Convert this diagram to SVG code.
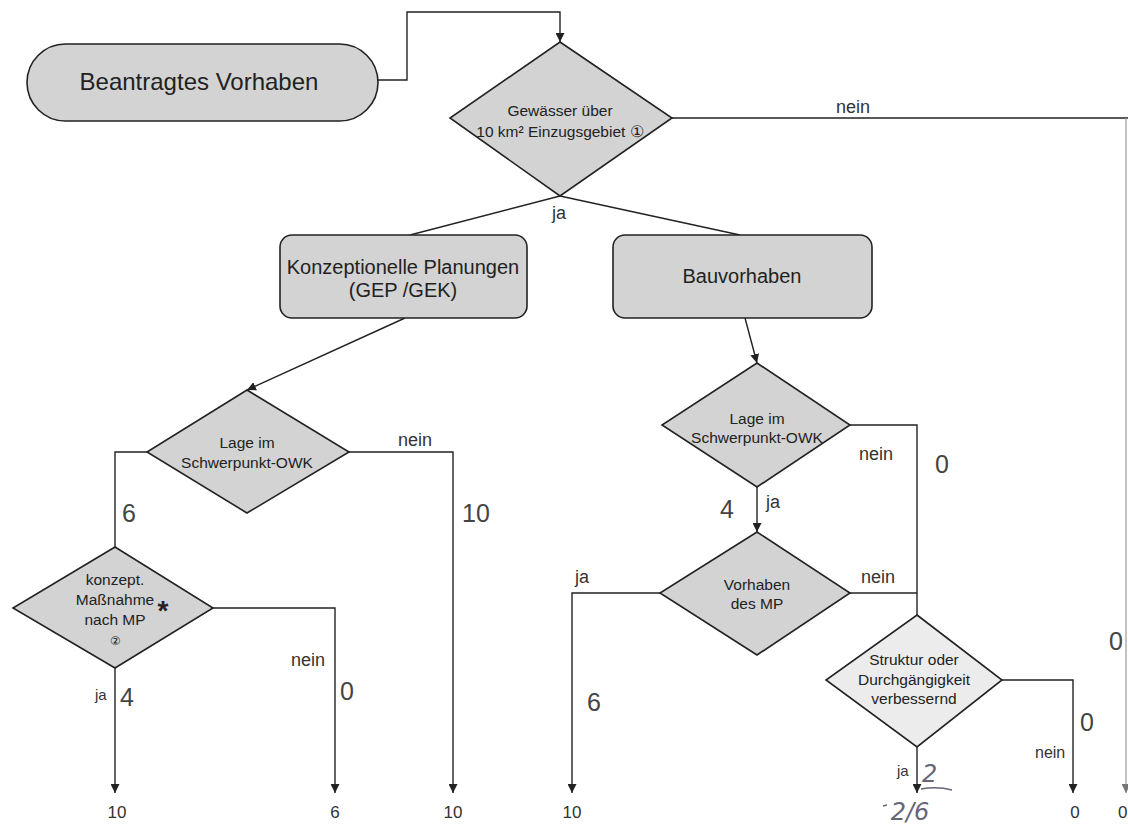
<svg xmlns="http://www.w3.org/2000/svg" width="1128" height="826" viewBox="0 0 1128 826">
<style>
.shape{fill:#d3d3d3;stroke:#222;stroke-width:1.6}
.light{fill:#ececec;stroke:#222;stroke-width:1.6}
.line{fill:none;stroke:#222;stroke-width:1.4}
.faint{fill:none;stroke:#999;stroke-width:1.2}
text{font-family:"Liberation Sans",Arial,sans-serif;fill:#222}
.dt{font-size:15.5px;text-anchor:middle}
.bt{font-size:20px;text-anchor:middle}
.lab{font-size:18px;fill:#333}
.num{font-size:25px;fill:#444}
.bn{font-size:17px;fill:#333;text-anchor:middle}
.hand{font-family:"DejaVu Sans",sans-serif;font-style:italic;fill:#667;font-size:24px}
</style>
<defs>
<marker id="arr" viewBox="0 0 10 10" refX="10" refY="5" markerWidth="9" markerHeight="9" markerUnits="userSpaceOnUse" orient="auto">
<path d="M0,0 L10,5 L0,10 z" fill="#222"/>
</marker>
<marker id="arrf" viewBox="0 0 10 10" refX="10" refY="5" markerWidth="9" markerHeight="9" markerUnits="userSpaceOnUse" orient="auto">
<path d="M0,0 L10,5 L0,10 z" fill="#777"/>
</marker>
</defs>

<g id="connectors">
<path class="line" d="M378,80 H407 V12 H560 V42" marker-end="url(#arr)"/>
<path class="line" d="M672,118 H1128"/>
<path class="faint" d="M1126,118 V793" marker-end="url(#arrf)"/>
<path class="line" d="M560,196 L410,235"/>
<path class="line" d="M560,196 L740,235"/>
<path class="line" d="M405,318 L247,390" marker-end="url(#arr)"/>
<path class="line" d="M745,318 L757,363" marker-end="url(#arr)"/>
<path class="line" d="M147,452 H115 V547"/>
<path class="line" d="M349,452 H453 V793" marker-end="url(#arr)"/>
<path class="line" d="M213,608 H335 V793" marker-end="url(#arr)"/>
<path class="line" d="M115,668 V793" marker-end="url(#arr)"/>
<path class="line" d="M850,425 H917 V615"/>
<path class="line" d="M757,487 V532" marker-end="url(#arr)"/>
<path class="line" d="M660,593 H572 V793" marker-end="url(#arr)"/>
<path class="line" d="M850,593 H917"/>
<path class="line" d="M1002,680 H1073 V793" marker-end="url(#arr)"/>
<path class="line" d="M917,747 V793" marker-end="url(#arr)"/>
</g>

<g id="start">
<rect class="shape" x="27" y="44" width="351" height="77" rx="38.5"/>
<text x="199" y="90" style="font-size:24px;text-anchor:middle">Beantragtes Vorhaben</text>
</g>

<g id="d1">
<polygon class="shape" points="560,42 672,118 560,196 450,118"/>
<text class="dt" x="560" y="116">Gewässer über</text>
<text class="dt" x="560" y="137">10 km² Einzugsgebiet ①</text>
</g>

<g id="box1">
<rect class="shape" x="280" y="235" width="247" height="83" rx="12"/>
<text class="bt" x="403" y="274">Konzeptionelle Planungen</text>
<text class="bt" x="403" y="297">(GEP /GEK)</text>
</g>

<g id="box2">
<rect class="shape" x="613" y="235" width="259" height="83" rx="12"/>
<text class="bt" x="742" y="283">Bauvorhaben</text>
</g>

<g id="d2">
<polygon class="shape" points="247,390 349,452 247,513 147,452"/>
<text class="dt" x="247" y="448">Lage im</text>
<text class="dt" x="247" y="468">Schwerpunkt-OWK</text>
</g>

<g id="d4">
<polygon class="shape" points="115,547 213,608 115,668 13,608"/>
<text class="dt" x="115" y="585">konzept.</text>
<text class="dt" x="115" y="605">Maßnahme</text>
<text class="dt" x="115" y="625">nach MP</text>
<text class="dt" x="115" y="645" style="font-size:12px">②</text>
<text x="163" y="620" style="font-size:28px;font-weight:bold;text-anchor:middle">*</text>
</g>

<g id="d3">
<polygon class="shape" points="757,363 850,425 757,487 662,425"/>
<text class="dt" x="757" y="424">Lage im</text>
<text class="dt" x="757" y="443">Schwerpunkt-OWK</text>
</g>

<g id="d5">
<polygon class="shape" points="757,532 850,593 757,655 660,593"/>
<text class="dt" x="757" y="590">Vorhaben</text>
<text class="dt" x="757" y="609">des MP</text>
</g>

<g id="d6">
<polygon class="light" points="917,615 1002,680 917,747 826,680"/>
<text class="dt" x="914" y="665">Struktur oder</text>
<text class="dt" x="914" y="685">Durchgängigkeit</text>
<text class="dt" x="914" y="704">verbessernd</text>
</g>

<g id="labels">
<text class="lab" x="836" y="113">nein</text>
<text class="lab" x="552" y="219">ja</text>
<text class="lab" x="398" y="446">nein</text>
<text class="num" x="122" y="522">6</text>
<text class="num" x="462" y="522">10</text>
<text class="lab" x="291" y="666">nein</text>
<text class="num" x="340" y="700">0</text>
<text class="lab" x="95" y="700" style="font-size:15px">ja</text>
<text class="num" x="120" y="706">4</text>
<text class="lab" x="859" y="460">nein</text>
<text class="num" x="935" y="473">0</text>
<text class="num" x="720" y="518">4</text>
<text class="lab" x="766" y="508">ja</text>
<text class="lab" x="575" y="583">ja</text>
<text class="lab" x="861" y="583">nein</text>
<text class="num" x="587" y="711">6</text>
<text class="num" x="1080" y="731">0</text>
<text class="lab" x="1035" y="758" style="font-size:16px">nein</text>
<text class="lab" x="897" y="776" style="font-size:15px">ja</text>
<text class="hand" x="922" y="782">2</text>
<path d="M921,789 Q937,786 952,790" fill="none" stroke="#667" stroke-width="1.4"/>
<text class="num" x="1109" y="650">0</text>
<text class="bn" x="117" y="818">10</text>
<text class="bn" x="335" y="818">6</text>
<text class="bn" x="453" y="818">10</text>
<text class="bn" x="572" y="818">10</text>
<text class="hand" x="910" y="820" style="text-anchor:middle">2/6</text>
<path d="M883,806 L887,805" fill="none" stroke="#667" stroke-width="1.4"/>
<text class="bn" x="1075" y="818">0</text>
<text class="bn" x="1118" y="818" style="text-anchor:start">0</text>
</g>
</svg>
